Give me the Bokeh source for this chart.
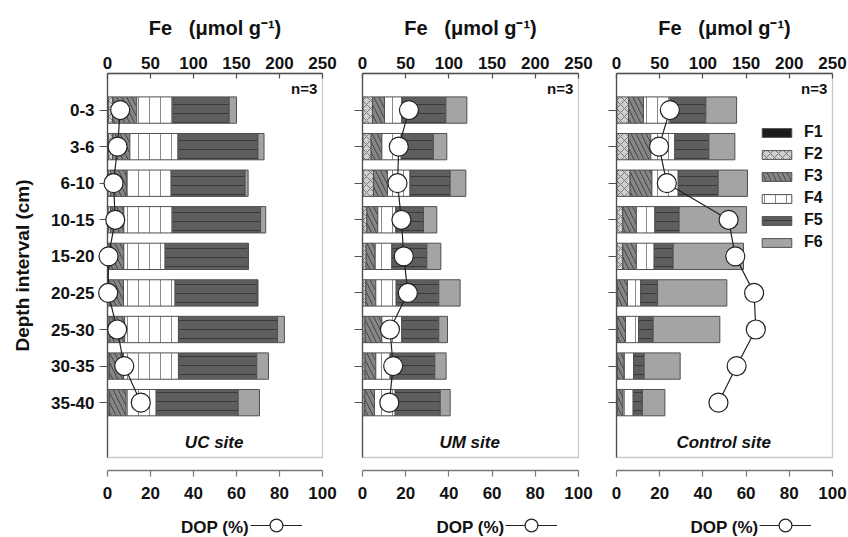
from bokeh.plotting import figure
from bokeh.models import (Range1d, LinearAxis, FixedTicker, Legend, LegendItem, Label,
                          ColumnDataSource, BoxAnnotation)
from bokeh.transform import stack
from bokeh.layouts import row
from bokeh.embed import file_html
from bokeh.resources import INLINE

# ---------------- data ----------------
depths = ["0-3", "3-6", "6-10", "10-15", "15-20", "20-25", "25-30", "30-35", "35-40"]
fractions = ["F1", "F2", "F3", "F4", "F5", "F6"]
sites = ["UC site", "UM site", "Control site"]
fe_ticks = [0, 50, 100, 150, 200, 250]
dop_ticks = [0, 20, 40, 60, 80, 100]

# Fe fractions (umol g-1) per depth interval
uc_f1 = [1.0, 1.0, 0.8, 0.8, 0.7, 0.7, 0.7, 0.7, 0.7]
uc_f2 = [5.0, 5.0, 3.0, 3.0, 2.0, 2.0, 2.0, 1.5, 1.5]
uc_f3 = [28.0, 20.0, 18.2, 15.2, 16.3, 15.9, 17.3, 16.4, 19.5]
uc_f4 = [42.0, 56.0, 52.0, 57.0, 48.0, 60.0, 62.5, 63.9, 34.9]
uc_f5 = [65.5, 93.0, 86.0, 102.0, 96.0, 95.8, 115.2, 91.1, 95.4]
uc_f6 = [8.5, 7.0, 3.5, 6.0, 1.0, 0.6, 8.0, 13.6, 24.7]
uc_dop = [5.9, 4.7, 2.8, 3.6, 0.5, 0.3, 4.5, 7.8, 15.5]

um_f1 = [0.6, 0.6, 0.6, 0.5, 0.5, 0.5, 0.5, 0.5, 0.5]
um_f2 = [11.0, 9.4, 12.1, 4.5, 3.7, 3.4, 2.5, 2.5, 2.2]
um_f3 = [13.9, 12.4, 16.3, 12.7, 10.5, 11.5, 19.4, 12.4, 11.2]
um_f4 = [20.0, 22.4, 26.0, 20.9, 19.3, 23.6, 23.1, 16.6, 23.9]
um_f5 = [51.0, 37.2, 46.5, 32.0, 40.5, 49.3, 42.8, 51.7, 52.2]
um_f6 = [24.3, 15.6, 18.1, 15.4, 16.2, 24.7, 10.1, 13.1, 11.5]
um_dop = [21.5, 16.8, 16.2, 18.0, 19.1, 21.0, 12.7, 14.2, 12.4]

ct_f1 = [0.6, 0.6, 0.6, 0.5, 0.5, 0.4, 0.4, 0.4, 0.4]
ct_f2 = [13.3, 13.3, 15.2, 6.8, 6.8, 0.6, 0.6, 0.5, 0.5]
ct_f3 = [17.3, 25.8, 25.2, 15.7, 15.7, 11.7, 9.4, 8.0, 6.8]
ct_f4 = [30.8, 27.8, 30.4, 21.4, 20.6, 15.3, 15.1, 10.8, 11.6]
ct_f5 = [41.4, 39.5, 46.3, 28.1, 22.0, 19.5, 16.9, 12.3, 10.7]
ct_f6 = [35.6, 30.0, 33.9, 78.0, 81.4, 80.2, 77.2, 41.7, 26.0]
ct_dop = [24.7, 19.7, 23.3, 51.9, 55.0, 63.7, 64.5, 55.6, 47.2]

site_data = [
    [uc_f1, uc_f2, uc_f3, uc_f4, uc_f5, uc_f6, uc_dop],
    [um_f1, um_f2, um_f3, um_f4, um_f5, um_f6, um_dop],
    [ct_f1, ct_f2, ct_f3, ct_f4, ct_f5, ct_f6, ct_dop],
]

# ---------------- styles / layout ----------------
FONT = "Liberation Sans"
fill = {"F1": "#1a1a1a", "F2": "#cfcfcf", "F3": "#868686", "F4": "#ffffff", "F5": "#5e5e5e", "F6": "#a4a4a4"}
hatch = {"F2": "x", "F3": "\\", "F4": "|", "F5": "-"}
hatch_col = {"F2": "#7a7a7a", "F3": "#464646", "F4": "#8a8a8a", "F5": "#3a3a3a"}
hatch_sc = {"F2": 8, "F3": 10, "F4": 11, "F5": 9}
EDGE = "#505050"
FE_MAX, DOP_MAX = 250, 100

BOX_TOP, BOX_BOTTOM = -1.0, 9.5        # panel box in depth-slot units
PX_PER_SLOT = 384 / (BOX_BOTTOM - BOX_TOP)
Y_START = BOX_TOP - 73 / PX_PER_SLOT    # room above the box for the Fe scale
Y_END = BOX_BOTTOM + 80 / PX_PER_SLOT   # room under the box for the DOP scale
DOP_AXIS_Y = BOX_BOTTOM + 13 / PX_PER_SLOT


def style_axis(ax):
    ax.axis_line_color = EDGE
    ax.axis_line_width = 1.3
    ax.major_tick_line_color = EDGE
    ax.major_tick_line_width = 1.2
    ax.minor_tick_line_color = None
    ax.major_label_text_font = FONT
    ax.major_label_text_font_style = "bold"
    ax.major_label_text_font_size = "17px"
    ax.major_label_text_color = "#111111"
    ax.axis_label_text_font = FONT
    ax.axis_label_text_font_style = "bold"
    ax.axis_label_text_color = "#111111"
    ax.level = "underlay"


def make_panel(k, pad_l, box_w, pad_r):
    f1, f2, f3, f4, f5, f6, dop = site_data[k]
    ys = list(range(len(depths)))
    src = ColumnDataSource(dict(y=ys, F1=f1, F2=f2, F3=f3, F4=f4, F5=f5, F6=f6, dop=dop))

    fe_range = Range1d(-FE_MAX * pad_l / box_w, FE_MAX + FE_MAX * pad_r / box_w)
    dop_range = Range1d(-DOP_MAX * pad_l / box_w, DOP_MAX + DOP_MAX * pad_r / box_w)

    p = figure(width=pad_l + box_w + pad_r, height=537, x_range=fe_range,
               y_range=Range1d(Y_END, Y_START),
               x_axis_location="above", output_backend="svg", toolbar_location=None,
               min_border_left=0, min_border_right=0, min_border_top=0, min_border_bottom=0)
    p.extra_x_ranges = {"dop": dop_range}
    p.grid.visible = False
    p.outline_line_color = None
    p.background_fill_color = "white"
    p.border_fill_color = "white"

    # panel box
    p.add_layout(BoxAnnotation(left=0, right=FE_MAX, top=BOX_TOP, bottom=BOX_BOTTOM, fill_alpha=0,
                               line_color=EDGE, line_width=1.3, level="underlay"))

    # top Fe axis, pinned to the box top
    top = p.xaxis[0]
    style_axis(top)
    top.fixed_location = BOX_TOP
    top.ticker = FixedTicker(ticks=fe_ticks)
    top.bounds = (0, FE_MAX)
    top.major_tick_in = 5
    top.major_tick_out = 0
    top.major_label_standoff = 5
    top.axis_label = "Fe\u00a0\u00a0\u00a0(\u03bcmol g\u207b\u00b9)"
    top.axis_label_text_font_size = "20px"
    top.axis_label_standoff = 15

    # left depth axis, pinned to Fe = 0
    ya = p.yaxis[0]
    style_axis(ya)
    ya.fixed_location = 0
    ya.ticker = FixedTicker(ticks=ys)
    ya.bounds = (BOX_TOP, BOX_BOTTOM)
    ya.major_tick_in = 0
    ya.major_tick_out = 8
    if k == 0:
        ya.major_label_overrides = {i: d for i, d in enumerate(depths)}
        ya.major_label_standoff = 5
        ya.axis_label = "Depth interval (cm)"
        ya.axis_label_text_font_size = "19px"
        ya.axis_label_standoff = 15
    else:
        ya.major_label_overrides = {i: "" for i in ys}
        ya.major_label_text_font_size = "0px"
        ya.major_label_standoff = 0

    # DOP axis, drawn a little below the box
    dax = LinearAxis(x_range_name="dop", ticker=FixedTicker(ticks=dop_ticks), fixed_location=DOP_AXIS_Y)
    style_axis(dax)
    dax.bounds = (0, DOP_MAX)
    dax.axis_line_color = "#777777"
    dax.major_tick_line_color = "#777777"
    dax.major_tick_in = 0
    dax.major_tick_out = 6
    dax.major_label_standoff = 10
    dax.axis_label = "DOP (%)"
    dax.axis_label_text_font_size = "17px"
    dax.axis_label_standoff = 16
    p.add_layout(dax, "below")

    # stacked bars
    items = []
    for i, fr in enumerate(fractions):
        kw = dict(fill_color=fill[fr], line_color=EDGE, line_width=1)
        if fr in hatch:
            kw.update(hatch_pattern=hatch[fr], hatch_color=hatch_col[fr], hatch_scale=hatch_sc[fr], hatch_weight=1)
        r = p.hbar(y="y", left=stack(*fractions[:i]), right=stack(*fractions[:i + 1]), height=0.72,
                   source=src, **kw)
        items.append(LegendItem(label=fr, renderers=[r]))

    # DOP line and circles
    lr = p.line(x="dop", y="y", source=src, x_range_name="dop", line_color="#222222", line_width=1.2)
    cr = p.scatter(x="dop", y="y", source=src, x_range_name="dop", size=19, fill_color="white",
                   line_color="#222222", line_width=1.2)

    p.add_layout(Label(x=244, y=-0.6, text="n=3", text_align="right", text_baseline="middle",
                       text_font=FONT, text_font_style="bold", text_font_size="15px", text_color="#111111"))
    p.add_layout(Label(x=124, y=9.1, text=sites[k], text_align="center", text_baseline="middle",
                       text_font=FONT, text_font_style="bold italic", text_font_size="17px",
                       text_color="#111111"))

    # key for the DOP symbol, right of the "DOP (%)" caption
    dleg = Legend(items=[LegendItem(label=" ", renderers=[lr, cr])], location=(pad_l + 143, -4),
                  glyph_width=52, glyph_height=32, padding=0, margin=0, label_standoff=0,
                  label_width=0, border_line_color=None, background_fill_alpha=0,
                  label_text_font_size="2px")
    p.add_layout(dleg)

    if k == 2:
        leg = Legend(items=items, location=(pad_l + 142, 286), glyph_width=37, glyph_height=11, padding=0,
                     margin=0, spacing=4, label_standoff=9, border_line_color=None,
                     background_fill_alpha=0, label_text_font=FONT, label_text_font_style="bold",
                     label_text_font_size="16px", label_text_color="#111111")
        p.add_layout(leg)
    return p


p1 = make_panel(0, 107, 215, 20)
p2 = make_panel(1, 20, 216, 18)
p3 = make_panel(2, 20, 216, 16)
layout = row(p1, p2, p3)

open("out.html", "w").write(file_html(layout, INLINE))
